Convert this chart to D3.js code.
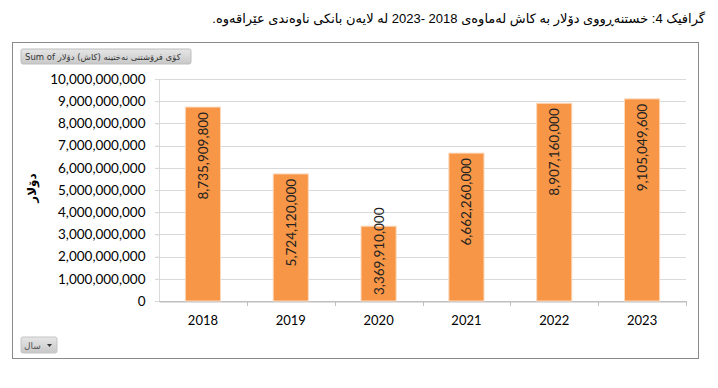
<!DOCTYPE html>
<html><head><meta charset="utf-8">
<script src="https://cdn.jsdelivr.net/npm/d3@7/dist/d3.min.js"></script>
<style>
html,body{margin:0;padding:0;background:#fff;}
svg{display:block;}
</style></head>
<body>
<svg id="chart" width="718" height="388"></svg>
<script>
const years = ["2018","2019","2020","2021","2022","2023"];
const values = [8735909800, 5724120000, 3369910000, 6662260000, 8907160000, 9105049600];
const yTicks = [0,1e9,2e9,3e9,4e9,5e9,6e9,7e9,8e9,9e9,1e10];
const titleText = "گرافیک 4: خستنەڕووی دۆلار بە کاش لەماوەی 2018 -2023 لە لایەن بانکی ناوەندی عێراقەوە.";
const yAxisTitle = "دۆلار";
const valueFieldText = "Sum of کۆی فرۆشتنی نەختینە (کاش) دۆلار";
const axisFieldText = "سال";

(function(){
const svg = d3.select("#chart");
const fmt = d3.format(",");
const latin = "Lato, 'Open Sans', sans-serif";

// title
svg.append("text").attr("x", 705).attr("y", 18).attr("direction","rtl")
  .attr("text-anchor","start").attr("dominant-baseline","central")
  .attr("font-family","'Liberation Sans', 'DejaVu Sans', sans-serif").attr("font-size",13).attr("fill","#000")
  .text(titleText);

// frame
svg.append("rect").attr("x",12.5).attr("y",42.5).attr("width",686).attr("height",316)
  .attr("fill","#fff").attr("stroke","#8a8a8a").attr("stroke-width",1);

const defs = svg.append("defs");
const g1 = defs.append("linearGradient").attr("id","btn").attr("x1",0).attr("y1",0).attr("x2",0).attr("y2",1);
g1.append("stop").attr("offset","0%").attr("stop-color","#e6e6e6");
g1.append("stop").attr("offset","100%").attr("stop-color","#c8c8c8");

// field buttons
svg.append("rect").attr("x",21).attr("y",49).attr("width",170).attr("height",15).attr("rx",2)
  .attr("fill","url(#btn)").attr("stroke","#bdbdbd");
svg.append("text").attr("x",25).attr("y",57).attr("dominant-baseline","central")
  .attr("font-family","'DejaVu Sans', sans-serif").attr("font-size",8.5).attr("fill","#333")
  .text(valueFieldText);

svg.append("rect").attr("x",21).attr("y",337).attr("width",36).attr("height",16).attr("rx",2)
  .attr("fill","url(#btn)").attr("stroke","#c4c4c4");
svg.append("text").attr("x",24).attr("y",345.5).attr("dominant-baseline","central")
  .attr("font-family","'DejaVu Sans', sans-serif").attr("font-size",9).attr("fill","#555")
  .text(axisFieldText);
svg.append("path").attr("d","M47,344 L52,344 L49.5,347 Z").attr("fill","#333");

// scales
const pLeft = 159, pRight = 686, pTop = 79, pBottom = 301;
const x = d3.scaleBand().domain(years).range([pLeft,pRight]).paddingInner(0.6).paddingOuter(0.3);
const xb = d3.scaleBand().domain(years).range([pLeft,pRight]);
const y = d3.scaleLinear().domain([0,1e10]).range([pBottom,pTop]);

// gridlines
svg.append("g").selectAll("line").data(yTicks).join("line")
  .attr("x1",pLeft-4).attr("x2",pRight).attr("y1",d=>Math.round(y(d))+0.5).attr("y2",d=>Math.round(y(d))+0.5)
  .attr("stroke",d=>d===0?"#bfbfbf":"#d9d9d9").attr("stroke-width",1);

// y axis
const ya = svg.append("g").attr("transform",`translate(${pLeft+0.5},0)`)
  .call(d3.axisLeft(y).tickValues(yTicks).tickFormat(fmt).tickSize(4).tickPadding(10));
ya.select(".domain").attr("stroke","#d9d9d9").attr("d",`M0,${pTop}V${pBottom}`);
ya.selectAll(".tick line").attr("stroke","#d9d9d9");
ya.selectAll("text").attr("font-family",latin).attr("font-size",13.5).attr("fill","#000");

// x axis
const xa = svg.append("g").attr("transform",`translate(0,${pBottom+0.5})`)
  .call(d3.axisBottom(xb).tickSize(0).tickPadding(14));
xa.select(".domain").attr("stroke","#bfbfbf");
xa.selectAll("text").attr("font-family",latin).attr("font-size",13).attr("fill","#000");
svg.append("g").selectAll("line").data(years.slice(1).concat(["end"])).join("line")
  .attr("x1",(d,i)=>Math.round(i<5?xb(d):pRight)+0.5).attr("x2",(d,i)=>Math.round(i<5?xb(d):pRight)+0.5)
  .attr("y1",pBottom).attr("y2",pBottom+5).attr("stroke","#bfbfbf");

// bars
svg.append("g").selectAll("rect").data(values).join("rect")
  .attr("x",(d,i)=>x(years[i])).attr("width",x.bandwidth())
  .attr("y",d=>y(d)).attr("height",d=>pBottom-y(d))
  .attr("fill","#f79646").attr("stroke","#fbd9bd").attr("stroke-width",1);

// value labels
svg.append("g").selectAll("text").data(values).join("text")
  .each(function(d,i){
    const cx = x(years[i]) + x.bandwidth()/2;
    const h = pBottom - y(d);
    const fits = h > 100;
    const ty = fits ? y(d)+5 : pBottom-6;
    d3.select(this).attr("transform",`translate(${cx},${ty}) rotate(-90)`)
      .attr("text-anchor", fits ? "end" : "start");
  })
  .attr("dominant-baseline","central")
  .attr("font-family",latin).attr("font-size",13.5).attr("fill","#222")
  .text(d=>fmt(d));

// y axis title
svg.append("text").attr("transform","translate(32,188) rotate(-90)")
  .attr("text-anchor","middle").attr("dominant-baseline","central")
  .attr("font-family","'DejaVu Sans', sans-serif").attr("font-size",12).attr("font-weight","bold")
  .attr("fill","#000").text(yAxisTitle);
})();
</script>
</body></html>
